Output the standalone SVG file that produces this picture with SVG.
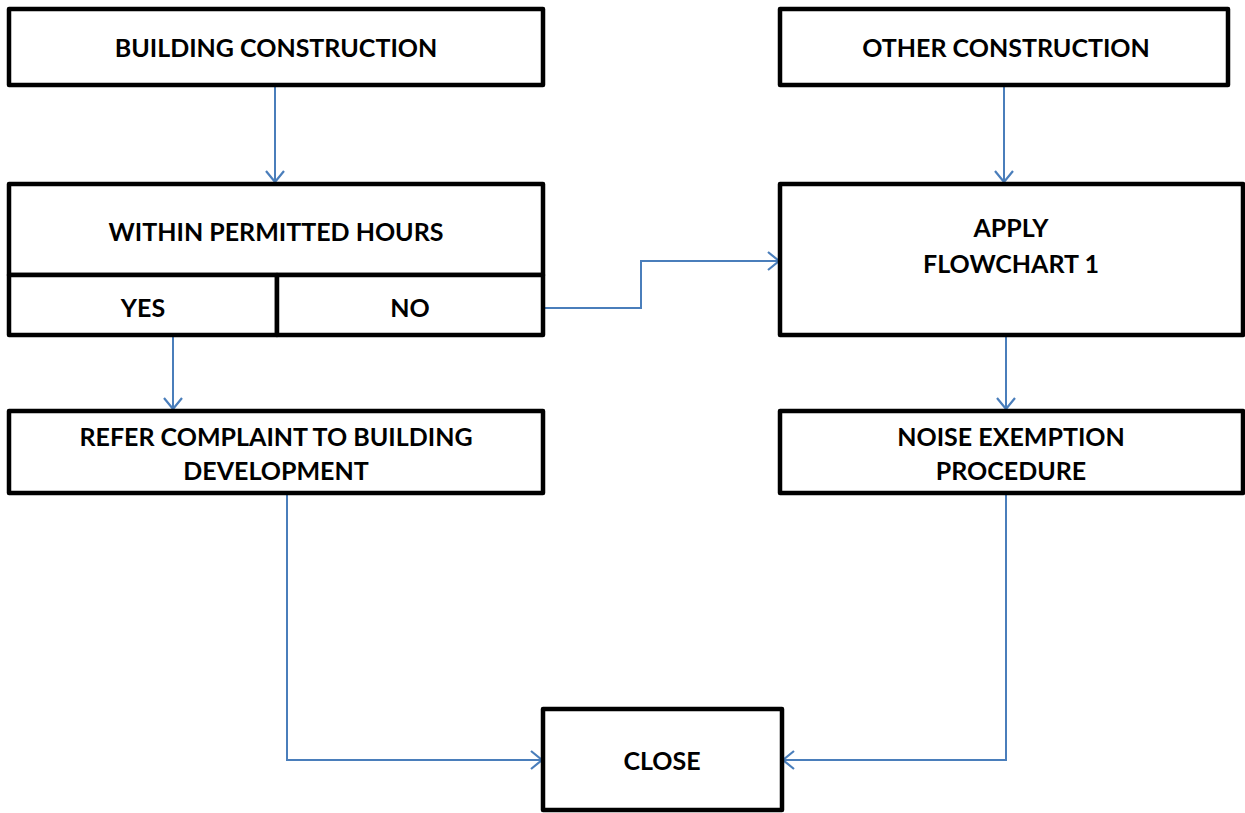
<svg xmlns="http://www.w3.org/2000/svg" width="1245" height="813" viewBox="0 0 1245 813">
<style>
.box{fill:#fff;stroke:#000;stroke-width:4.5;stroke-linejoin:round}
.t{font-family:Lato,"Liberation Sans",sans-serif;font-weight:700;font-size:25px;fill:#000;text-anchor:middle}
.c{fill:none;stroke:#4a7ebb;stroke-width:2}
</style>
<defs>
<marker id="ah" markerWidth="16" markerHeight="22" refX="13" refY="11" orient="auto" markerUnits="userSpaceOnUse">
<path d="M2,2 L13,11 L2,20" fill="none" stroke="#4a7ebb" stroke-width="2.2"/>
</marker>
</defs>
<rect width="1245" height="813" fill="#fff"/>
<g id="connectors">
<path class="c" d="M275,86 V182" marker-end="url(#ah)"/>
<path class="c" d="M1004,86 V182" marker-end="url(#ah)"/>
<path class="c" d="M545,308 H641 V261 H779" marker-end="url(#ah)"/>
<path class="c" d="M173,337 V409" marker-end="url(#ah)"/>
<path class="c" d="M1006,337 V409" marker-end="url(#ah)"/>
<path class="c" d="M287,495 V760 H542" marker-end="url(#ah)"/>
<path class="c" d="M1006,495 V760 H783" marker-end="url(#ah)"/>
</g>
<g id="building">
<rect class="box" x="9" y="9" width="534" height="76"/>
<text class="t" x="276" y="57">BUILDING CONSTRUCTION</text>
</g>
<g id="other">
<rect class="box" x="780" y="9" width="448" height="76"/>
<text class="t" x="1006" y="57">OTHER CONSTRUCTION</text>
</g>
<g id="within">
<rect class="box" x="9" y="184" width="534" height="91"/>
<text class="t" x="276" y="241">WITHIN PERMITTED HOURS</text>
</g>
<g id="yes">
<rect class="box" x="9" y="275" width="268" height="60"/>
<text class="t" x="143" y="317">YES</text>
</g>
<g id="no">
<rect class="box" x="277" y="275" width="266" height="60"/>
<text class="t" x="410" y="317">NO</text>
</g>
<g id="apply">
<rect class="box" x="780" y="184" width="463" height="151"/>
<text class="t" x="1011" y="237">APPLY</text>
<text class="t" x="1011" y="273">FLOWCHART 1</text>
</g>
<g id="refer">
<rect class="box" x="9" y="411" width="534" height="82"/>
<text class="t" x="276" y="446">REFER COMPLAINT TO BUILDING</text>
<text class="t" x="276" y="480">DEVELOPMENT</text>
</g>
<g id="noise">
<rect class="box" x="780" y="411" width="463" height="82"/>
<text class="t" x="1011" y="446">NOISE EXEMPTION</text>
<text class="t" x="1011" y="480">PROCEDURE</text>
</g>
<g id="close">
<rect class="box" x="543" y="709" width="239" height="101"/>
<text class="t" x="662" y="770">CLOSE</text>
</g>
</svg>
